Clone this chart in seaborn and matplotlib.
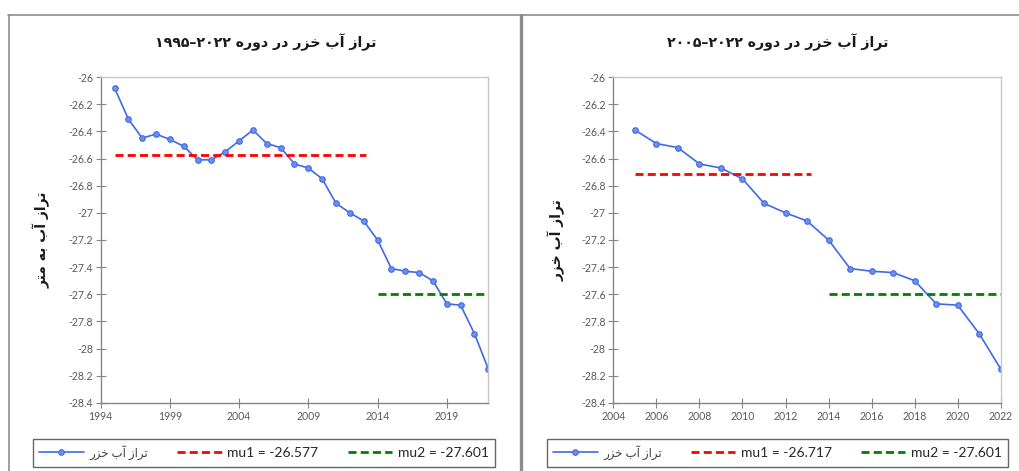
import unicodedata
import pandas as pd
import matplotlib
matplotlib.use('Agg')
import matplotlib.pyplot as plt
import seaborn as sns
from matplotlib.lines import Line2D
from matplotlib.ticker import FuncFormatter

# Caspian sea level (m)
years = [1995, 1996, 1997, 1998, 1999, 2000, 2001, 2002, 2003, 2004,
         2005, 2006, 2007, 2008, 2009, 2010, 2011, 2012, 2013, 2014,
         2015, 2016, 2017, 2018, 2019, 2020, 2021, 2022]
level = [-26.08, -26.31, -26.45, -26.42, -26.46, -26.51, -26.61, -26.61, -26.55, -26.47,
         -26.39, -26.49, -26.52, -26.64, -26.67, -26.75, -26.93, -27.00, -27.06, -27.20,
         -27.41, -27.43, -27.44, -27.50, -27.67, -27.68, -27.89, -28.15]

# means of the two sub-periods
mu1_long = -26.577
mu1_short = -26.717
mu2 = -27.601
p1_long = (1995, 2013.2)
p1_short = (2005, 2013.2)
p2 = (2014, 2022)

series_label = 'تراز آب خزر'
title_words = 'تراز آب خزر در دوره'
title_long_years = '۱۹۹۵–۲۰۲۲'
title_short_years = '۲۰۰۵–۲۰۲۲'
ylabel_long = 'تراز آب به متر'
ylabel_short = 'تراز آب خزر'

# simple arabic shaping (no arabic_reshaper available)
FORMS = {}
for cp in list(range(0xFB50, 0xFE00)) + list(range(0xFE70, 0xFF00)):
    dec = unicodedata.decomposition(chr(cp)).split()
    if len(dec) == 2 and dec[0] in ('<isolated>', '<final>', '<initial>', '<medial>'):
        FORMS.setdefault(chr(int(dec[1], 16)), {})[dec[0][1:-1]] = chr(cp)


def fa(text):
    out = []
    for i, c in enumerate(text):
        if c not in FORMS:
            out.append(c)
            continue
        prev = text[i - 1] if i > 0 else ''
        nxt = text[i + 1] if i + 1 < len(text) else ''
        dual = 'medial' in FORMS[c]
        jp = prev in FORMS and 'medial' in FORMS[prev]
        jn = dual and nxt in FORMS
        if jp and jn:
            form = 'medial'
        elif jp:
            form = 'final'
        elif jn:
            form = 'initial'
        else:
            form = 'isolated'
        out.append(FORMS[c].get(form, c))
    return ''.join(reversed(out))


sns.set_style('white')
plt.rcParams['font.family'] = ['Lato', 'DejaVu Sans']

df = pd.DataFrame({'year': years, 'level': level})

fig = plt.figure(figsize=(10.19, 4.71), dpi=100)

panels = [
    dict(data=df, rect=[0.0988, 0.1444, 0.3804, 0.6921], xlim=(1994, 2022), step=5,
         mu1=mu1_long, p1=p1_long, title=title_long_years, ylabel=ylabel_long,
         tx=266 / 1019, ylx=42 / 1019, leg=(33 / 1019, 0.0064, 462 / 1019, 0.0637)),
    dict(data=df[df['year'] >= 2005], rect=[0.6019, 0.1444, 0.3802, 0.6921], xlim=(2004, 2022), step=2,
         mu1=mu1_short, p1=p1_short, title=title_short_years, ylabel=ylabel_short,
         tx=778 / 1019, ylx=557 / 1019, leg=(547 / 1019, 0.0064, 461 / 1019, 0.0637)),
]

for p in panels:
    ax = fig.add_axes(p['rect'])
    sns.lineplot(data=p['data'], x='year', y='level', ax=ax, color='#3f6ae6',
                 marker='o', markersize=4, markerfacecolor='#6f8ff0', markeredgecolor='#3f6ae6',
                 markeredgewidth=0.8, linewidth=1.2, label=fa(series_label))
    red = ax.hlines(p['mu1'], p['p1'][0], p['p1'][1], colors='#ff0000', linewidth=2,
                    linestyles=[(0, (2.9, 1.5))])
    green = ax.hlines(mu2, p2[0], p2[1], colors='#008000', linewidth=2,
                      linestyles=[(0, (2.9, 1.5))])
    ax.legend_.remove()

    ax.set_xlim(*p['xlim'])
    ax.set_ylim(-28.4, -26)
    ax.set_xticks(range(p['xlim'][0], p['xlim'][1] + 1, p['step']))
    ax.set_yticks([-26 - 0.2 * k for k in range(13)])
    ax.yaxis.set_major_formatter(FuncFormatter(lambda v, pos: '%g' % round(v, 1)))
    ax.set_xlabel('')
    ax.set_ylabel('')
    ax.tick_params(axis='both', direction='inout', length=7, width=0.8, color='#868686',
                   labelsize=7.6, labelcolor='#595959', pad=2, left=True, bottom=True)
    for side in ['left', 'bottom']:
        ax.spines[side].set_color('#868686')
        ax.spines[side].set_linewidth(1.0)
    for side in ['top', 'right']:
        ax.spines[side].set_color('#c8c8c8')
        ax.spines[side].set_linewidth(1.0)

    fig.text(p['tx'], 0.911, p['title'] + ' ' + fa(title_words), ha='center', va='center',
             fontsize=10.2, fontweight='bold', family=['DejaVu Sans'], color='#1a1a1a')
    fig.text(p['ylx'], 0.49, fa(p['ylabel']), rotation=90, ha='center', va='center',
             fontsize=10, fontweight='bold', family=['DejaVu Sans'], color='#1a1a1a')

    labels = [fa(series_label), 'mu1 = %.3f' % p['mu1'], 'mu2 = %.3f' % mu2]
    leg = ax.legend([ax.lines[0], red, green], labels, loc='center', bbox_to_anchor=p['leg'],
                    bbox_transform=fig.transFigure, mode='expand', ncol=3, fontsize=10,
                    frameon=True, fancybox=False, edgecolor='#404040', borderaxespad=0,
                    handlelength=3.2, handletextpad=0.4, columnspacing=1.2, borderpad=0.45)
    leg.get_frame().set_linewidth(1.0)
    leg.get_texts()[0].set_fontsize(8.5)
    leg.get_texts()[0].set_color('#404040')

# chart object borders
fig.add_artist(Line2D([8 / 1019, 1], [1 - 14.7 / 471] * 2, color='#8c8c8c', linewidth=1.2))
fig.add_artist(Line2D([8.5 / 1019] * 2, [0, 1 - 14.7 / 471], color='#8c8c8c', linewidth=1.2))
fig.add_artist(Line2D([520.7 / 1019] * 2, [0, 1 - 14.7 / 471], color='#8c8c8c', linewidth=2.4))

fig.savefig('out.png', dpi=100)
